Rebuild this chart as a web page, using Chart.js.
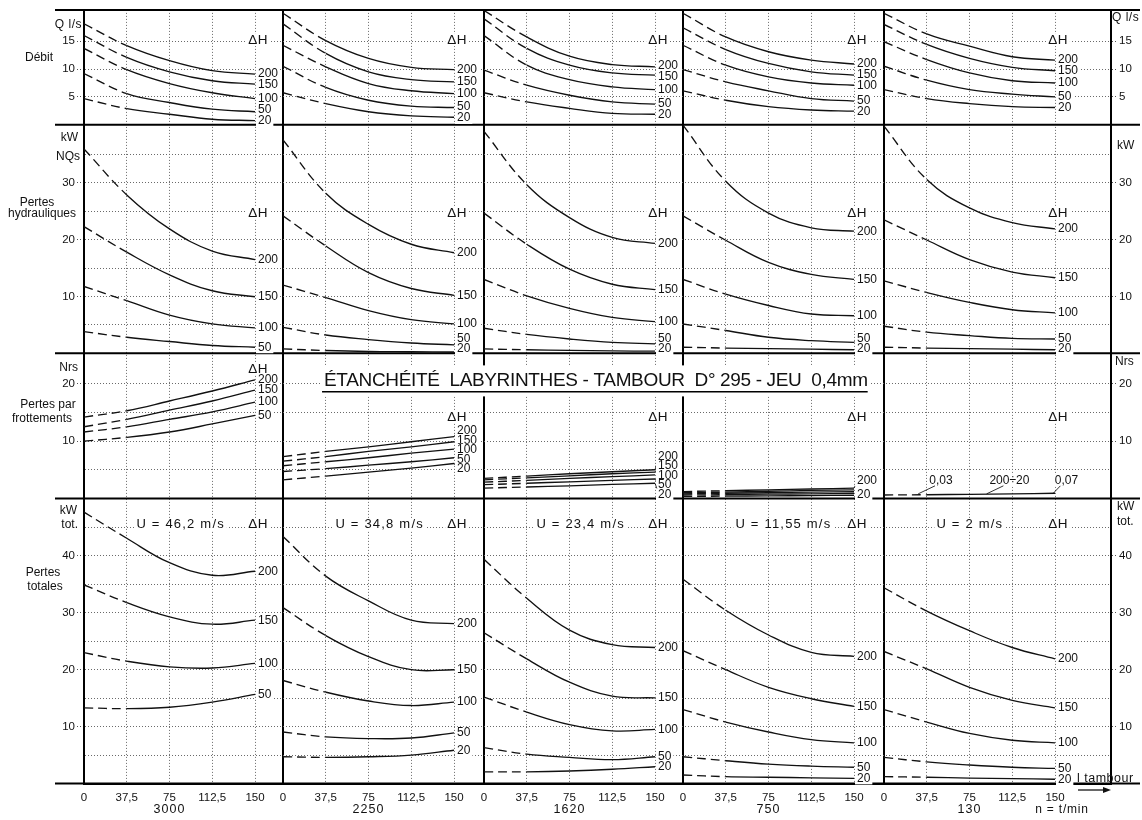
<!DOCTYPE html>
<html>
<head>
<meta charset="utf-8">
<script src="https://cdn.jsdelivr.net/npm/chart.js@4.4.1/dist/chart.umd.min.js"></script>
<style>
    html, body { margin: 0; padding: 0; background: #fff; }
    #wrap { width: 1142px; height: 820px; }
</style>
</head>
<body>
<div id="wrap"><canvas id="cnv" width="1142" height="820"></canvas></div>
<script>
"use strict";

// abscissa ticks (same in every panel)
const xValues = [0, 37.5, 75, 112.5, 150];
const deltaH = ["200", "150", "100", "50", "20"];
const speedsRpm = ["3000", "2250", "1620", "750", "130"];
const peripheralSpeed = ["U = 46,2 m/s", "U = 34,8 m/s", "U = 23,4 m/s", "U = 11,55 m/s", "U = 2 m/s"];

// Débit Q l/s : one line per column (3000 ... 130 t/min), curves ΔH 200..20
const debit = [
    [[18.1, 14.2, 11.5, 9.7, 9.1], [16.0, 12.1, 9.5, 7.9, 7.3], [13.7, 9.9, 7.4, 5.75, 4.7], [9.2, 5.6, 4.0, 2.8, 2.35], [4.7, 2.9, 1.9, 1.0, 0.75]],
    [[20.0, 15.1, 11.9, 10.3, 9.9], [18.1, 12.8, 9.5, 8.1, 7.7], [14.25, 10.4, 7.4, 6.1, 5.6], [10.5, 6.7, 4.4, 3.35, 3.1], [5.75, 3.8, 2.35, 1.6, 1.35]],
    [[20.5, 15.75, 12.3, 10.8, 10.4], [19.0, 13.7, 10.7, 9.3, 8.9], [16.0, 10.7, 8.1, 6.8, 6.3], [9.8, 7.1, 5.3, 4.1, 3.7], [5.75, 4.1, 2.95, 2.05, 1.9]],
    [[20.0, 15.75, 13.1, 11.6, 10.9], [17.4, 13.5, 11.0, 9.5, 8.9], [14.25, 10.7, 8.6, 7.5, 7.1], [9.9, 7.7, 6.1, 4.7, 4.25], [6.1, 4.4, 3.25, 2.65, 2.45]],
    [[20.0, 16.3, 14.1, 12.2, 11.6], [18.0, 14.4, 11.9, 10.3, 9.7], [14.9, 11.7, 9.3, 7.9, 7.5], [10.5, 8.0, 6.3, 5.5, 5.0], [6.3, 4.7, 3.8, 3.25, 3.1]]
];

// Pertes hydrauliques kW
const pertesHydrauliques = [
    [[36.0, 27.9, 21.9, 18.0, 16.5], [22.3, 17.8, 13.8, 11.0, 9.95], [11.75, 9.25, 6.7, 5.15, 4.45], [3.8, 2.8, 2.05, 1.35, 1.05], null],
    [[37.6, 28.2, 22.7, 19.2, 17.7], [24.2, 18.9, 14.2, 11.4, 10.2], [12.0, 9.8, 7.5, 5.9, 5.15], [4.55, 3.2, 2.4, 1.8, 1.45], [0.75, 0.47, 0.3, 0.25, 0.2]],
    [[39.1, 29.7, 23.9, 20.4, 19.35], [24.7, 19.2, 14.8, 12.15, 11.2], [13.0, 10.1, 7.9, 6.3, 5.55], [4.4, 3.3, 2.5, 1.9, 1.65], [0.75, 0.6, 0.5, 0.4, 0.35]],
    [[40.2, 30.3, 24.7, 22.1, 21.5], [24.2, 19.9, 16.0, 13.9, 13.0], [13.0, 10.4, 8.4, 6.9, 6.6], [5.15, 4.0, 2.8, 2.2, 1.9], [1.05, 0.9, 0.8, 0.7, 0.6]],
    [[40.0, 30.6, 25.6, 23.0, 21.9], [23.5, 19.95, 16.5, 14.3, 13.3], [12.75, 10.7, 8.95, 7.65, 7.1], [4.75, 3.7, 3.1, 2.6, 2.5], [1.05, 0.9, 0.8, 0.7, 0.6]]
];

// Pertes par frottements kW
const pertesFrottements = [
    [[14.2, 15.3, 17.0, 18.75, 20.7], [12.5, 13.8, 15.4, 17.0, 18.9], [11.6, 12.5, 13.8, 15.1, 16.8], [10.0, 10.65, 11.6, 13.0, 14.5], null],
    [[7.3, 8.2, 9.0, 9.9, 10.8], [6.5, 7.3, 8.2, 9.0, 9.9], [5.7, 6.4, 7.1, 7.9, 8.6], [4.7, 5.2, 5.8, 6.4, 7.1], [3.25, 3.9, 4.6, 5.3, 6.1]],
    [[3.5, 3.9, 4.3, 4.65, 5.0], [3.25, 3.6, 3.95, 4.3, 4.6], [2.85, 3.15, 3.5, 3.8, 4.1], [2.4, 2.65, 2.9, 3.15, 3.4], [1.8, 2.0, 2.2, 2.45, 2.65]],
    [[1.2, 1.35, 1.5, 1.65, 1.8], [1.0, 1.1, 1.25, 1.4, 1.5], [0.8, 0.9, 1.0, 1.1, 1.2], [0.6, 0.65, 0.75, 0.8, 0.9], [0.35, 0.4, 0.45, 0.5, 0.55]],
    [[0.6, 0.65, 0.72, 0.8, 0.9], null, null, null, null]
];

// Pertes totales kW
const pertesTotales = [
    [[47.7, 43.1, 38.8, 36.6, 37.3], [34.9, 31.8, 29.3, 28.0, 28.7], [23.0, 21.5, 20.5, 20.3, 21.1], [13.3, 13.15, 13.4, 14.3, 15.65], null],
    [[43.4, 36.45, 32.1, 28.7, 28.1], [30.9, 26.0, 22.3, 20.0, 20.0], [18.1, 16.05, 14.5, 13.7, 14.3], [9.05, 8.2, 7.9, 8.0, 8.9], [4.7, 4.6, 4.7, 5.0, 5.85]],
    [[39.4, 32.55, 26.95, 24.4, 23.9], [26.5, 21.9, 17.8, 15.35, 15.05], [15.2, 12.55, 10.35, 9.25, 9.5], [6.3, 5.15, 4.6, 4.2, 4.7], [2.05, 2.05, 2.2, 2.5, 2.95]],
    [[35.9, 30.45, 26.1, 23.05, 22.35], [23.35, 20.0, 16.9, 14.9, 13.55], [13.0, 10.8, 9.05, 7.7, 7.15], [4.7, 4.0, 3.4, 3.05, 2.85], [1.5, 1.2, 1.1, 1.0, 0.9]],
    [[34.4, 30.3, 26.85, 23.9, 21.9], [23.2, 20.15, 16.9, 14.6, 13.3], [13.0, 10.8, 8.8, 7.6, 7.15], [4.6, 3.8, 3.25, 2.85, 2.65], [1.2, 1.1, 0.95, 0.85, 0.75]]
];

// layout of the grid
const FONT = "'Liberation Sans', Arial, sans-serif";
const PX_PER_UNIT = 171 / 150;
const colW = [199, 201, 199, 201, 227];
const rows = [
    {id: "yQ", data: debit, max: 20.6, lab: 5, h: 115.5, gap: 11, dh: 15.2},
    {id: "yH", data: pertesHydrauliques, max: 40.25, lab: 10, h: 229.5, gap: 10.5, dh: 24.7},
    {id: "yF", data: pertesFrottements, max: 25.35, lab: 10, h: 146, gap: 9.5, dh: 14.2},
    {id: "yT", data: pertesTotales, max: 50.1, lab: 10, h: 286.5, gap: 10.5, dh: 45.6}
];

Chart.defaults.font.family = FONT;
Chart.defaults.color = "#111";

let scales = {};
colW.forEach(function (w, c) {
    scales["x" + c] = {
        type: "linear", position: "bottom", stack: "cols", stackWeight: w, weight: c,
        min: 0, max: w / PX_PER_UNIT,
        afterBuildTicks: s => { s.ticks = xValues.map(v => ({value: v})); },
        afterFit: s => { s.height = 36.5; },
        ticks: {autoSkip: false, maxRotation: 0, padding: 7, font: {size: 11.5}, callback: v => String(v).replace(".", ",")},
        grid: {
            drawTicks: false,
            color: k => k.tick && k.tick.value === 0 ? "#000" : "#6a6a6a",
            lineWidth: k => k.tick && k.tick.value === 0 ? 2 : 1
        },
        border: {display: true, color: "#000", width: 2, dash: k => k.tick && k.tick.value !== 0 ? [1, 2] : []}
    };
});
rows.forEach(function (r, i) {
    ["left", "right"].forEach(function (pos) {
        const isLabel = v => v > 0 && v % r.lab === 0;
        scales[pos === "left" ? r.id : r.id + "r"] = {
            type: "linear", position: pos, stack: pos, stackWeight: r.h, weight: pos === "left" ? 3 - i : i,
            min: 0, max: r.max,
            afterBuildTicks: s => { let t = []; for (let v = 0; v <= r.max - 1; v += 5) t.push({value: v}); s.ticks = t; },
            afterFit: s => { s.width = pos === "left" ? 84 : 31; },
            ticks: {autoSkip: false, padding: pos === "left" ? 2 : 3, font: {size: 11.5}, callback: v => isLabel(v) ? String(v) : ""},
            grid: {
                drawOnChartArea: pos === "left", tickLength: pos === "left" ? 7 : 5,
                color: k => k.tick && k.tick.value === 0 ? "rgba(0,0,0,0)" : "#6a6a6a",
                tickColor: k => k.tick && isLabel(k.tick.value) ? "#555" : "rgba(0,0,0,0)",
                tickBorderDash: [1, 2]
            },
            border: {display: true, color: "#000", width: 2, dash: k => k.tick ? [1, 2] : []}
        };
    });
});

let datasets = [];
rows.forEach(function (r) {
    r.data.forEach(function (panel, c) {
        panel.forEach(function (curve) {
            if (!curve) return;
            datasets.push({
                data: curve.map((y, i) => ({x: xValues[i], y: y})),
                xAxisID: "x" + c, yAxisID: r.id,
                borderColor: "#111", borderWidth: 1.35, pointRadius: 0, fill: false,
                tension: 0.4,
                segment: {borderDash: s => s.p0.parsed.x < 37.5 ? [9, 5] : undefined}
            });
        });
    });
});

function write(ctx, s, x, y, o) {
    o = o || {};
    ctx.font = (o.size || 11.5) + "px " + FONT;
    ctx.letterSpacing = (o.ls || 0) + "px";
    ctx.textAlign = o.align || "left";
    ctx.textBaseline = "middle";
    if (o.bg) {
        const w = ctx.measureText(s).width;
        const x0 = o.align === "center" ? x - w / 2 : o.align === "right" ? x - w : x;
        ctx.fillStyle = "#fff";
        ctx.fillRect(x0 - 2, y - 6, w + 4, 12);
    }
    ctx.fillStyle = "#111";
    ctx.fillText(s, x, y);
    ctx.letterSpacing = "0px";
}

function line(ctx, x1, y1, x2, y2) {
    ctx.beginPath();
    ctx.moveTo(x1, y1);
    ctx.lineTo(x2, y2);
    ctx.stroke();
}

// spread end labels so that they do not overlap, keep them above the row bottom
function spread(items, gap, limit) {
    const place = g => g.reduce((t, m, j) => t + m.y - j * gap, 0) / g.length;
    let groups = [];
    items.forEach(function (it) {
        groups.push([it]);
        while (groups.length > 1) {
            const b = groups[groups.length - 1], a = groups[groups.length - 2];
            if (place(a) + a.length * gap > place(b)) {
                groups.splice(groups.length - 2, 2, a.concat(b));
            } else break;
        }
    });
    groups.forEach(function (g) {
        let s = place(g);
        const last = s + (g.length - 1) * gap;
        if (last > limit) s -= last - limit;
        g.forEach((m, j) => { m.ly = s + j * gap; });
    });
}

const overlay = {
    id: "overlay",
    afterDraw(chart) {
        const ctx = chart.ctx, a = chart.chartArea, S = chart.scales;
        const X = (c, v) => S["x" + c].getPixelForValue(v);
        const Y = (r, v) => S[rows[r].id].getPixelForValue(v);
        ctx.save();
        // frame of the rows
        ctx.strokeStyle = "#000";
        ctx.lineWidth = 2;
        [a.top].concat(rows.map((r, i) => Y(i, 0))).forEach(y => line(ctx, 55, y, 1140, y));

        // curve labels
        rows.forEach(function (r, ri) {
            r.data.forEach(function (panel, c) {
                const xe = X(c, 150);
                write(ctx, "ΔH", X(c, 144), Y(ri, ri === 2 && c === 0 ? 22.6 : r.dh), {size: 13.5, bg: true, ls: 0.5});
                if (ri === 2 && c === 4) return;
                let items = [];
                panel.forEach(function (curve, k) {
                    if (!curve) return;
                    if (ri === 2 && c === 3 && k > 0 && k < 4) return;
                    items.push({t: deltaH[k], y: Y(ri, curve[curve.length - 1])});
                });
                spread(items, ri === 2 && c === 3 ? 14 : r.gap, Y(ri, 0) - 4);
                ctx.lineWidth = 0.8;
                items.forEach(function (it) {
                    if (Math.abs(it.ly - it.y) > 3) line(ctx, xe, it.y, xe + 4, it.ly);
                    write(ctx, it.t, xe + 3, it.ly, {size: 12, bg: true});
                });
            });
        });

        // friction losses near zero for 130 t/min
        ctx.lineWidth = 0.8;
        [["0,03", 50, 30], ["200÷20", 110, 90], ["0,07", 160, 148]].forEach(function (l) {
            write(ctx, l[0], X(4, l[1]), Y(2, 3.1), {size: 12, align: "center", bg: true});
            line(ctx, X(4, l[1]) - 6, Y(2, 2.2), X(4, l[2]), Y(2, 0.8));
        });

        // peripheral speeds
        peripheralSpeed.forEach((s, c) => write(ctx, s, X(c, 46), Y(3, 45.6), {size: 13, bg: true, ls: 1.2}));

        // title
        const title = "ÉTANCHÉITÉ  LABYRINTHES - TAMBOUR  D° 295 - JEU  0,4mm";
        const tx0 = X(1, 36), tx1 = X(3, 162), ty = Y(2, 20.6);
        ctx.fillStyle = "#fff";
        ctx.fillRect(tx0 - 3, ty - 15, tx1 - tx0 + 6, 31);
        ctx.font = "19px " + FONT;
        ctx.letterSpacing = "0px";
        const w0 = ctx.measureText(title).width;
        write(ctx, title, tx0, ty, {size: 19, ls: (tx1 - tx0 - w0) / title.length});
        ctx.lineWidth = 1.5;
        ctx.strokeStyle = "#000";
        line(ctx, tx0 - 2, Y(2, 18.6), tx1, Y(2, 18.6));

        // row titles and units, left side
        write(ctx, "Débit", 39, Y(0, 12), {size: 12, align: "center"});
        write(ctx, "Pertes", 37, Y(1, 26.5), {size: 12, align: "center"});
        write(ctx, "hydrauliques", 42, Y(1, 24.5), {size: 12, align: "center"});
        write(ctx, "Pertes par", 48, Y(2, 16.3), {size: 12, align: "center"});
        write(ctx, "frottements", 42, Y(2, 13.9), {size: 12, align: "center"});
        write(ctx, "Pertes", 43, Y(3, 37), {size: 12, align: "center"});
        write(ctx, "totales", 45, Y(3, 34.6), {size: 12, align: "center"});
        write(ctx, "Q l/s", 82, Y(0, 17.9), {size: 12, align: "right", ls: 0.5});
        write(ctx, "kW", 78, Y(1, 37.9), {size: 12, align: "right"});
        write(ctx, "NQs", 80, Y(1, 34.7), {size: 12, align: "right"});
        write(ctx, "Nrs", 78, Y(2, 22.9), {size: 12, align: "right"});
        write(ctx, "kW", 77, Y(3, 48), {size: 12, align: "right"});
        write(ctx, "tot.", 78, Y(3, 45.5), {size: 12, align: "right"});
        // units, right side
        write(ctx, "Q l/s", a.right + 1, Y(0, 19.2), {size: 12, ls: 0.5});
        write(ctx, "kW", a.right + 6, Y(1, 36.5), {size: 12});
        write(ctx, "Nrs", a.right + 4, Y(2, 23.8), {size: 12});
        write(ctx, "kW", a.right + 6, Y(3, 48.6), {size: 12});
        write(ctx, "tot.", a.right + 6, Y(3, 46), {size: 12});

        // speeds under the columns
        speedsRpm.forEach((s, c) => write(ctx, s, X(c, 75), 810, {size: 12.5, align: "center", ls: 1}));
        write(ctx, "n = t/min", 1062, 810, {size: 12, align: "center", ls: 0.8});
        write(ctx, "l tambour", 1077, Y(3, 0.8), {size: 12.5, ls: 0.5});
        ctx.lineWidth = 1.2;
        line(ctx, 1078, 790, 1106, 790);
        ctx.beginPath();
        ctx.moveTo(1111, 790);
        ctx.lineTo(1103, 787);
        ctx.lineTo(1103, 793);
        ctx.closePath();
        ctx.fillStyle = "#111";
        ctx.fill();
        ctx.restore();
    }
};

new Chart(document.getElementById("cnv"), {
    type: "line",
    data: {datasets: datasets},
    options: {
        responsive: false,
        devicePixelRatio: 1,
        animation: false,
        events: [],
        layout: {padding: {top: 6, left: 0, right: 0, bottom: 0}},
        plugins: {legend: {display: false}, tooltip: {enabled: false}},
        scales: scales
    },
    plugins: [overlay]
});
</script>
</body>
</html>
